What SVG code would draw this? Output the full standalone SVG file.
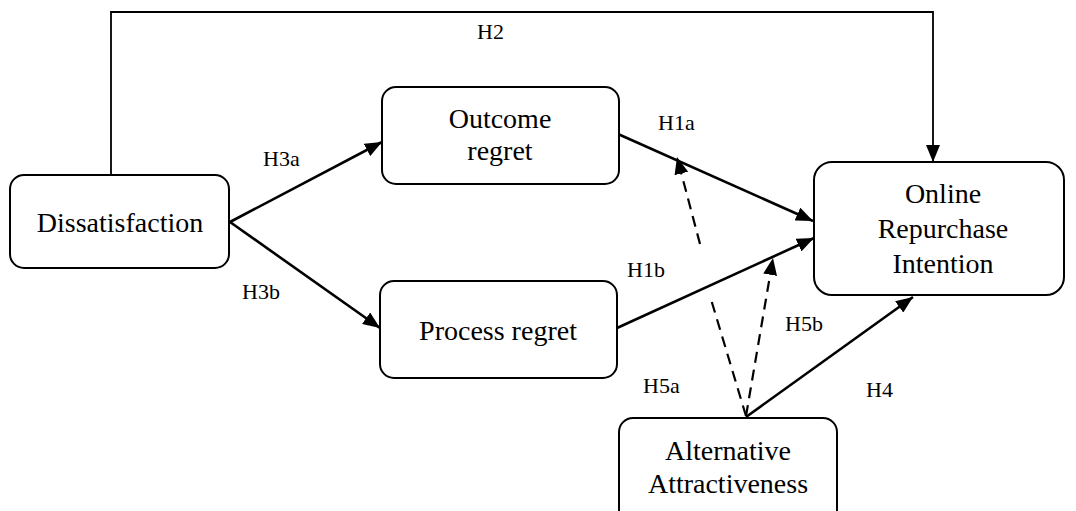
<svg xmlns="http://www.w3.org/2000/svg" width="1076" height="511" viewBox="0 0 1076 511">
<style>
.box{fill:#fff;stroke:#000;stroke-width:2}
.nt{font-family:"Liberation Serif","Times New Roman",serif;font-size:28px;fill:#000;text-anchor:middle}
.lb{font-family:"Liberation Serif","Times New Roman",serif;font-size:22px;fill:#000}
.ln{fill:none;stroke:#000;stroke-width:2.6}
.thin{fill:none;stroke:#000;stroke-width:1.8}
.dash{fill:none;stroke:#000;stroke-width:2.2;stroke-dasharray:11,7}
</style>
<defs>
<marker id="ah" markerUnits="userSpaceOnUse" markerWidth="18" markerHeight="14" refX="17" refY="7" orient="auto" viewBox="0 0 18 14">
<path d="M0,0 L17,7 L0,14 z" fill="#000"/>
</marker>
</defs>
<g id="connectors">
<path class="thin" d="M111,175 V12 H933 V162" marker-end="url(#ah)"/>
<line class="ln" x1="230" y1="222" x2="382" y2="142" marker-end="url(#ah)"/>
<line class="ln" x1="230" y1="222" x2="380" y2="328" marker-end="url(#ah)"/>
<line class="ln" x1="618" y1="134" x2="813" y2="221" marker-end="url(#ah)"/>
<line class="ln" x1="617" y1="328" x2="814" y2="238" marker-end="url(#ah)"/>
<line class="ln" x1="746" y1="417" x2="913" y2="297" marker-end="url(#ah)"/>
<line class="dash" x1="746" y1="416" x2="710" y2="296"/>
<line class="dash" x1="700" y1="244" x2="677" y2="157" marker-end="url(#ah)"/>
<line class="dash" x1="746" y1="416" x2="773" y2="258" marker-end="url(#ah)"/>
</g>
<g id="labels">
<text class="lb" x="477" y="39">H2</text>
<text class="lb" x="263" y="166">H3a</text>
<text class="lb" x="658" y="130">H1a</text>
<text class="lb" x="242" y="299">H3b</text>
<text class="lb" x="627" y="277">H1b</text>
<text class="lb" x="785" y="331">H5b</text>
<text class="lb" x="643" y="393">H5a</text>
<text class="lb" x="866" y="397">H4</text>
</g>
<g id="dissatisfaction">
<rect class="box" x="10" y="175" width="219" height="93" rx="14"/>
<text class="nt" x="120" y="232">Dissatisfaction</text>
</g>
<g id="outcome-regret">
<rect class="box" x="382" y="87" width="237" height="97" rx="14"/>
<text class="nt" x="500" y="128">Outcome</text>
<text class="nt" x="500" y="160">regret</text>
</g>
<g id="process-regret">
<rect class="box" x="380" y="281" width="237" height="97" rx="14"/>
<text class="nt" x="498" y="340">Process regret</text>
</g>
<g id="online-repurchase-intention">
<rect class="box" x="814" y="162" width="250" height="133" rx="18"/>
<text class="nt" x="943" y="203">Online</text>
<text class="nt" x="943" y="238">Repurchase</text>
<text class="nt" x="943" y="273">Intention</text>
</g>
<g id="alternative-attractiveness">
<rect class="box" x="619" y="418" width="218" height="110" rx="14"/>
<text class="nt" x="728" y="460">Alternative</text>
<text class="nt" x="728" y="493">Attractiveness</text>
</g>
</svg>
